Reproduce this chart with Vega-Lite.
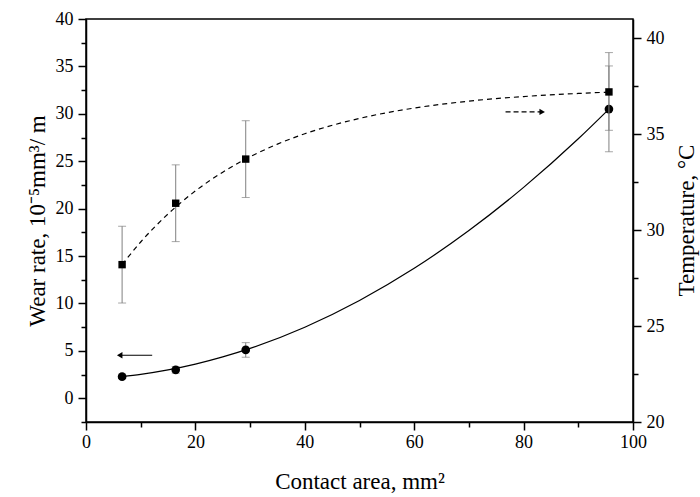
{
  "$schema": "https://vega.github.io/schema/vega-lite/v6.json",
  "width": 547,
  "height": 403,
  "autosize": {"type": "none"},
  "padding": {"left": 86, "top": 19, "right": 67, "bottom": 75},
  "background": "white",
  "config": {
    "view": {"stroke": "black", "strokeWidth": 1.5},
    "font": "Times New Roman",
    "axis": {
      "domainColor": "black", "domainWidth": 1.5,
      "tickColor": "black", "tickWidth": 1.5,
      "labelFont": "Times New Roman", "labelFontSize": 18, "labelColor": "black",
      "titleFont": "Times New Roman", "titleFontSize": 23, "titleFontWeight": "normal", "titleColor": "black",
      "grid": false, "labelFlush": false, "labelOverlap": false
    }
  },
  "datasets": {
    "wearfit": [
      {"x": 6.6, "w": 2.28}, {"x": 10, "w": 2.52}, {"x": 15, "w": 2.99}, {"x": 20, "w": 3.6},
      {"x": 25, "w": 4.36}, {"x": 30, "w": 5.26}, {"x": 40, "w": 7.5}, {"x": 50, "w": 10.32},
      {"x": 60, "w": 13.71}, {"x": 70, "w": 17.69}, {"x": 80, "w": 22.24}, {"x": 90, "w": 27.37},
      {"x": 95.6, "w": 30.5}
    ],
    "tempfit": [
      {"x": 6.6, "t": 28.2}, {"x": 10, "t": 29.38}, {"x": 15, "t": 30.84}, {"x": 20, "t": 32.04},
      {"x": 25, "t": 33.02}, {"x": 30, "t": 33.82}, {"x": 35, "t": 34.48}, {"x": 40, "t": 35.02},
      {"x": 50, "t": 35.82}, {"x": 60, "t": 36.36}, {"x": 70, "t": 36.72}, {"x": 80, "t": 36.96},
      {"x": 90, "t": 37.12}, {"x": 95.6, "t": 37.19}
    ],
    "wear": [
      {"x": 6.6, "w": 2.28, "lo": 2.1, "hi": 2.45},
      {"x": 16.4, "w": 3.0, "lo": 2.65, "hi": 3.35},
      {"x": 29.2, "w": 5.1, "lo": 4.33, "hi": 5.87},
      {"x": 95.6, "w": 30.5, "lo": 26.0, "hi": 35.05}
    ],
    "temp": [
      {"x": 6.6, "t": 28.2, "lo": 26.2, "hi": 30.2},
      {"x": 16.4, "t": 31.4, "lo": 29.4, "hi": 33.4},
      {"x": 29.2, "t": 33.7, "lo": 31.7, "hi": 35.7},
      {"x": 95.6, "t": 37.2, "lo": 35.2, "hi": 39.25}
    ],
    "arrowL": [{"x": 6.3, "x2": 12.1, "w": 4.54, "hx": 6.16}],
    "arrowR": [{"x": 76.7, "x2": 83.0, "t": 36.16, "hx": 83.4}]
  },
  "encoding": {
    "x": {
      "field": "x", "type": "quantitative",
      "scale": {"domain": [0, 100], "nice": false, "zero": false},
      "axis": {
        "values": [0, 10, 20, 30, 40, 50, 60, 70, 80, 90, 100],
        "labelExpr": "datum.value % 20 === 0 ? datum.label : ''",
        "tickSize": {"condition": {"test": "datum.value % 20 === 0", "value": 8}, "value": 5},
        "title": "Contact area, mm²",
        "labelPadding": 3,
        "titlePadding": 19
      }
    }
  },
  "layer": [
    {
      "data": {"name": "wearfit"},
      "mark": {"type": "line", "color": "black", "strokeWidth": 1.2, "interpolate": "monotone"},
      "encoding": {
        "y": {
          "field": "w", "type": "quantitative",
          "scale": {"domain": [-2.5, 40], "nice": false, "zero": false},
          "axis": {
            "orient": "left",
            "values": [-2.5, 0, 2.5, 5, 7.5, 10, 12.5, 15, 17.5, 20, 22.5, 25, 27.5, 30, 32.5, 35, 37.5, 40],
            "labelExpr": "datum.value % 5 === 0 ? datum.label : ''",
            "tickSize": {"condition": {"test": "datum.value % 5 === 0", "value": 8}, "value": 5},
            "title": "Wear rate, 10⁻⁵mm³/ m",
            "labelPadding": 5,
            "titlePadding": 6
          }
        }
      }
    },
    {
      "data": {"name": "tempfit"},
      "mark": {"type": "line", "color": "black", "strokeWidth": 1.2, "strokeDash": [5, 4], "interpolate": "monotone"},
      "encoding": {
        "y": {
          "field": "t", "type": "quantitative",
          "scale": {"domain": [20, 41], "nice": false, "zero": false},
          "axis": {
            "orient": "right",
            "values": [20, 22.5, 25, 27.5, 30, 32.5, 35, 37.5, 40],
            "labelExpr": "datum.value % 5 === 0 ? datum.label : ''",
            "tickSize": {"condition": {"test": "datum.value % 5 === 0", "value": 8}, "value": 5},
            "title": "Temperature, °C",
            "titleAngle": 270,
            "titleX": 53,
            "titleY": 201,
            "titleAlign": "center",
            "titleBaseline": "middle",
            "labelPadding": 5
          }
        }
      }
    },
    {
      "data": {"name": "wear"},
      "mark": {"type": "rule", "color": "#808080", "strokeWidth": 1},
      "encoding": {
        "y": {"field": "lo", "type": "quantitative", "scale": {"domain": [-2.5, 40], "nice": false, "zero": false}, "axis": null},
        "y2": {"field": "hi"}
      }
    },
    {
      "data": {"name": "wear"},
      "transform": [{"fold": ["lo", "hi"], "as": ["k", "v"]}],
      "mark": {"type": "tick", "orient": "horizontal", "color": "#808080", "size": 8, "thickness": 1},
      "encoding": {
        "y": {"field": "v", "type": "quantitative", "scale": {"domain": [-2.5, 40], "nice": false, "zero": false}, "axis": null}
      }
    },
    {
      "data": {"name": "wear"},
      "mark": {"type": "point", "shape": "circle", "filled": true, "color": "black", "size": 75, "opacity": 1},
      "encoding": {
        "y": {"field": "w", "type": "quantitative", "scale": {"domain": [-2.5, 40], "nice": false, "zero": false}, "axis": null}
      }
    },
    {
      "data": {"name": "temp"},
      "mark": {"type": "rule", "color": "#808080", "strokeWidth": 1},
      "encoding": {
        "y": {"field": "lo", "type": "quantitative", "scale": {"domain": [20, 41], "nice": false, "zero": false}, "axis": null},
        "y2": {"field": "hi"}
      }
    },
    {
      "data": {"name": "temp"},
      "transform": [{"fold": ["lo", "hi"], "as": ["k", "v"]}],
      "mark": {"type": "tick", "orient": "horizontal", "color": "#808080", "size": 8, "thickness": 1},
      "encoding": {
        "y": {"field": "v", "type": "quantitative", "scale": {"domain": [20, 41], "nice": false, "zero": false}, "axis": null}
      }
    },
    {
      "data": {"name": "temp"},
      "mark": {"type": "point", "shape": "square", "filled": true, "color": "black", "size": 55, "opacity": 1},
      "encoding": {
        "y": {"field": "t", "type": "quantitative", "scale": {"domain": [20, 41], "nice": false, "zero": false}, "axis": null}
      }
    },
    {
      "data": {"name": "arrowL"},
      "mark": {"type": "rule", "color": "black", "strokeWidth": 1.2},
      "encoding": {
        "x2": {"field": "x2"},
        "y": {"field": "w", "type": "quantitative", "scale": {"domain": [-2.5, 40], "nice": false, "zero": false}, "axis": null}
      }
    },
    {
      "data": {"name": "arrowL"},
      "mark": {"type": "point", "shape": "triangle-left", "filled": true, "color": "black", "size": 40, "opacity": 1},
      "encoding": {
        "x": {"field": "hx", "type": "quantitative"},
        "y": {"field": "w", "type": "quantitative", "scale": {"domain": [-2.5, 40], "nice": false, "zero": false}, "axis": null}
      }
    },
    {
      "data": {"name": "arrowR"},
      "mark": {"type": "rule", "color": "black", "strokeWidth": 1.2, "strokeDash": [5, 3]},
      "encoding": {
        "x2": {"field": "x2"},
        "y": {"field": "t", "type": "quantitative", "scale": {"domain": [20, 41], "nice": false, "zero": false}, "axis": null}
      }
    },
    {
      "data": {"name": "arrowR"},
      "mark": {"type": "point", "shape": "triangle-right", "filled": true, "color": "black", "size": 40, "opacity": 1},
      "encoding": {
        "x": {"field": "hx", "type": "quantitative"},
        "y": {"field": "t", "type": "quantitative", "scale": {"domain": [20, 41], "nice": false, "zero": false}, "axis": null}
      }
    }
  ],
  "resolve": {"scale": {"y": "independent"}, "axis": {"y": "independent"}}
}
